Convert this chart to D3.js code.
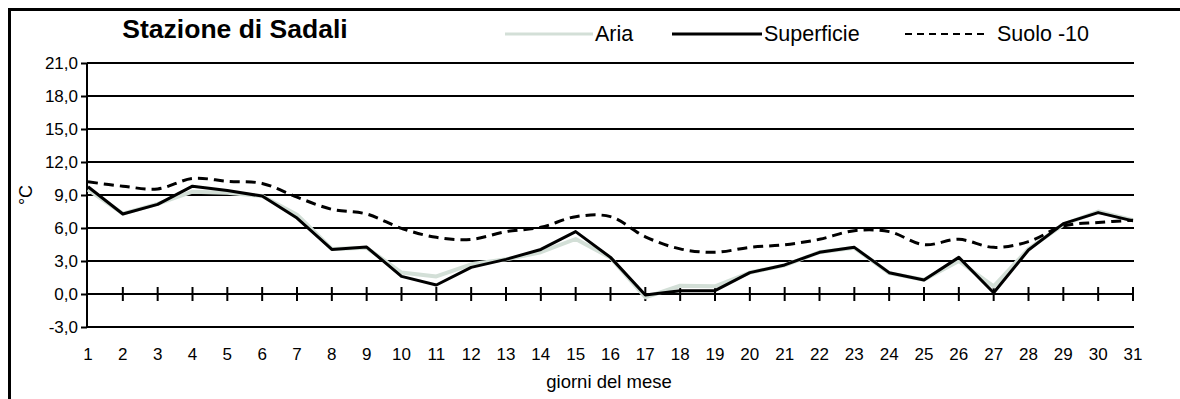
<!DOCTYPE html>
<html>
<head>
<meta charset="utf-8">
<script src="https://cdn.jsdelivr.net/npm/d3@7"></script>
<style>
    body { margin: 0; background: #fff; }
    text { font-family: "Liberation Sans", Arial, sans-serif; fill: #000; }
</style>
</head>
<body>
<div id="main"></div>
<script>
// giorni del mese
const days = d3.range(1, 32);

// temperatures (°C)
const aria = [9.5, 7.3, 8.2, 9.3, 9.2, 8.9, 7.2, 4.1, 4.2, 1.95, 1.6, 2.7, 3.15, 3.8, 5.0,
    3.3, -0.3, 0.75, 0.7, 1.95, 2.6, 3.8, 4.2, 1.9, 1.3, 3.0, 0.7, 4.1, 6.3, 7.5, 6.7];
const superficie = [9.75, 7.27, 8.15, 9.8, 9.4, 8.9, 6.9, 4.05, 4.27, 1.6, 0.82, 2.42, 3.15, 4.05, 5.67,
    3.33, -0.1, 0.3, 0.3, 1.94, 2.64, 3.79, 4.24, 1.94, 1.27, 3.33, 0.12, 4.0, 6.4, 7.4, 6.65];
const suolo = [10.2, 9.8, 9.55, 10.5, 10.25, 10.05, 8.8, 7.7, 7.27, 5.97, 5.15, 4.97, 5.67, 6.06, 7.03,
    7.03, 5.2, 4.1, 3.79, 4.24, 4.48, 4.97, 5.76, 5.67, 4.48, 4.97, 4.24, 4.76, 6.18, 6.5, 6.7];

const yTicks = [-3, 0, 3, 6, 9, 12, 15, 18, 21];

const ctx = {
    w: 1180,
    h: 399,
    left: 87,
    right: 1134,
    top: 63,
    bottom: 327,
};

const svg = d3.select("#main").append("svg")
    .attr("width", ctx.w)
    .attr("height", ctx.h);

// outer frame
svg.append("rect")
    .attr("x", 9.5).attr("y", 9.5)
    .attr("width", 1200).attr("height", 420)
    .attr("fill", "none")
    .attr("stroke", "#000")
    .attr("stroke-width", 3);

const x = d3.scaleLinear().domain([1, 31]).range([ctx.left + 1, ctx.right - 1]);
const y = d3.scaleLinear().domain([-3, 21]).range([ctx.bottom, ctx.top]);

// horizontal grid
svg.append("g").selectAll("line")
    .data(yTicks)
    .enter().append("line")
    .attr("x1", ctx.left).attr("x2", ctx.right)
    .attr("y1", d => y(d)).attr("y2", d => y(d))
    .attr("stroke", "#000")
    .attr("stroke-width", 2);

// y axis
const yAxis = svg.append("g")
    .attr("transform", `translate(${ctx.left},0)`)
    .call(d3.axisLeft(y).tickValues(yTicks).tickSize(6).tickPadding(3)
        .tickFormat(d => d3.format(".1f")(d).replace(".", ",").replace("−", "-")));
yAxis.attr("font-size", 17).attr("font-family", null);
yAxis.select(".domain").attr("stroke-width", 2).attr("d", `M0,${ctx.top}V${ctx.bottom}`);
yAxis.selectAll(".tick line").attr("stroke-width", 2);
yAxis.selectAll(".tick text").style("font-size", "17px").attr("fill", "#000");

// x axis line at 0 with crossing ticks
svg.append("g").selectAll("line")
    .data(days.slice(1))
    .enter().append("line")
    .attr("x1", d => x(d)).attr("x2", d => x(d))
    .attr("y1", y(0) - 7).attr("y2", y(0) + 7)
    .attr("stroke", "#000")
    .attr("stroke-width", 2);

// day labels
svg.append("g").selectAll("text")
    .data(days)
    .enter().append("text")
    .attr("x", d => x(d))
    .attr("y", 360)
    .attr("text-anchor", "middle")
    .style("font-size", "17px")
    .text(d => d);

const line = d3.line()
    .x((d, i) => x(days[i]))
    .y(d => y(d));

svg.append("path")
    .datum(aria)
    .attr("d", line)
    .attr("fill", "none")
    .attr("stroke", "#d3dfd7")
    .attr("stroke-width", 4)
    .attr("stroke-linejoin", "round");

svg.append("path")
    .datum(suolo)
    .attr("d", line.curve(d3.curveCatmullRom.alpha(0.5)))
    .attr("fill", "none")
    .attr("stroke", "#000")
    .attr("stroke-width", 3)
    .attr("stroke-dasharray", "10,6");

svg.append("path")
    .datum(superficie)
    .attr("d", line.curve(d3.curveLinear))
    .attr("fill", "none")
    .attr("stroke", "#000")
    .attr("stroke-width", 3)
    .attr("stroke-linejoin", "round");

// title
svg.append("text")
    .attr("x", 235).attr("y", 38)
    .attr("text-anchor", "middle")
    .style("font-size", "26.5px")
    .style("font-weight", "bold")
    .text("Stazione di Sadali");

// legend
const legend = [
    { name: "Aria", x1: 505, x2: 593, tx: 595, color: "#d3dfd7", w: 3, dash: null },
    { name: "Superficie", x1: 672, x2: 762, tx: 764, color: "#000", w: 3, dash: null },
    { name: "Suolo -10", x1: 905, x2: 987, tx: 997, color: "#000", w: 2, dash: "7,5" },
];
const lg = svg.append("g").selectAll("g")
    .data(legend)
    .enter().append("g");
lg.append("line")
    .attr("x1", d => d.x1).attr("x2", d => d.x2)
    .attr("y1", 34).attr("y2", 34)
    .attr("stroke", d => d.color)
    .attr("stroke-width", d => d.w)
    .attr("stroke-dasharray", d => d.dash);
lg.append("text")
    .attr("x", d => d.tx).attr("y", 41)
    .style("font-size", "21.5px")
    .text(d => d.name);

// axis titles
svg.append("text")
    .attr("transform", "translate(32,195) rotate(-90)")
    .attr("text-anchor", "middle")
    .style("font-size", "18px")
    .text("°C");

svg.append("text")
    .attr("x", 609).attr("y", 388)
    .attr("text-anchor", "middle")
    .style("font-size", "18.5px")
    .text("giorni del mese");
</script>
</body>
</html>
